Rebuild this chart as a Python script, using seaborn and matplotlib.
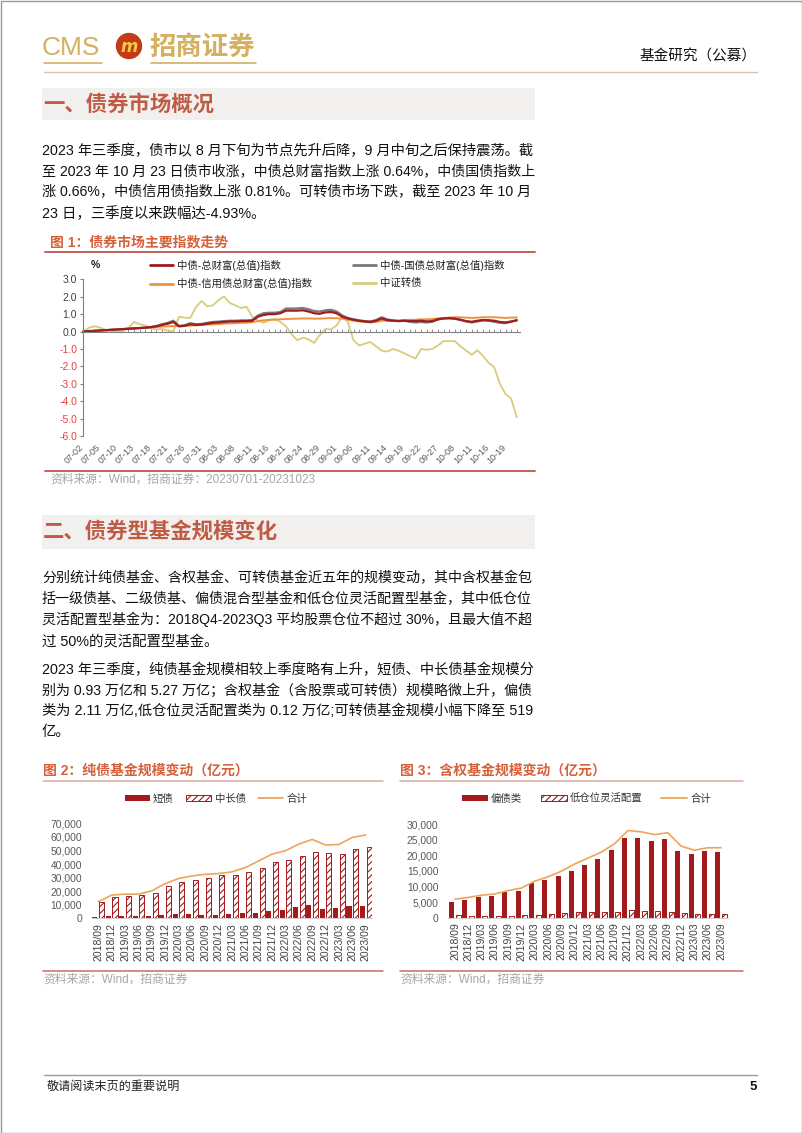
import numpy as np
import pandas as pd
import matplotlib
matplotlib.use("Agg")
import matplotlib.pyplot as plt
import matplotlib.transforms as mtransforms
import seaborn as sns
from matplotlib.patches import Rectangle, Circle, Patch
from matplotlib.lines import Line2D
from matplotlib.ticker import FuncFormatter
from matplotlib.font_manager import FontProperties, findfont, get_font

# ---------------- data: figure 1 (index moves, %) ----------------
date_labels = ["07-02", "07-05", "07-10", "07-13", "07-18", "07-21", "07-26", "07-31",
               "08-03", "08-08", "08-11", "08-16", "08-21", "08-24", "08-29", "09-01",
               "09-06", "09-11", "09-14", "09-19", "09-22", "09-27", "10-08", "10-11",
               "10-16", "10-19"]
label_step = 3
series_names = ["中债-总财富(总值)指数", "中债-国债总财富(总值)指数",
                "中债-信用债总财富(总值)指数", "中证转债"]
total_wealth = [0.00, 0.02, 0.04, 0.06, 0.08, 0.10, 0.12, 0.14, 0.16, 0.18,
                0.20, 0.22, 0.25, 0.30, 0.38, 0.45, 0.55, 0.30, 0.33, 0.42,
                0.38, 0.40, 0.45, 0.50, 0.52, 0.55, 0.58, 0.58, 0.60, 0.60,
                0.62, 0.85, 0.95, 1.00, 1.00, 1.05, 1.20, 1.20, 1.20, 1.22,
                1.15, 1.05, 1.02, 1.10, 1.12, 1.05, 0.85, 0.75, 0.68, 0.62,
                0.58, 0.55, 0.62, 0.75, 0.65, 0.62, 0.60, 0.62, 0.60, 0.60,
                0.62, 0.58, 0.60, 0.70, 0.75, 0.76, 0.74, 0.68, 0.60, 0.56,
                0.62, 0.66, 0.65, 0.62, 0.55, 0.52, 0.58, 0.64]
gov_wealth = [0.00, 0.02, 0.04, 0.06, 0.08, 0.10, 0.12, 0.14, 0.16, 0.18,
              0.20, 0.22, 0.26, 0.32, 0.42, 0.50, 0.62, 0.32, 0.36, 0.48,
              0.42, 0.44, 0.50, 0.55, 0.57, 0.60, 0.62, 0.62, 0.64, 0.64,
              0.66, 0.92, 1.05, 1.08, 1.08, 1.12, 1.32, 1.32, 1.33, 1.35,
              1.28, 1.18, 1.15, 1.22, 1.25, 1.15, 0.92, 0.78, 0.70, 0.64,
              0.60, 0.58, 0.66, 0.82, 0.70, 0.64, 0.60, 0.62, 0.56, 0.52,
              0.55, 0.52, 0.56, 0.70, 0.76, 0.78, 0.74, 0.66, 0.58, 0.52,
              0.58, 0.64, 0.62, 0.56, 0.50, 0.48, 0.56, 0.66]
credit_wealth = [0.00, 0.02, 0.04, 0.06, 0.08, 0.10, 0.12, 0.14, 0.16, 0.18,
                 0.20, 0.22, 0.24, 0.26, 0.28, 0.30, 0.32, 0.30, 0.31, 0.34,
                 0.35, 0.37, 0.39, 0.41, 0.43, 0.45, 0.47, 0.48, 0.50, 0.51,
                 0.53, 0.60, 0.64, 0.67, 0.68, 0.70, 0.72, 0.73, 0.74, 0.75,
                 0.75, 0.74, 0.74, 0.76, 0.77, 0.76, 0.74, 0.68, 0.62, 0.58,
                 0.55, 0.52, 0.55, 0.62, 0.62, 0.62, 0.63, 0.66, 0.67, 0.68,
                 0.70, 0.70, 0.72, 0.76, 0.78, 0.80, 0.82, 0.82, 0.80, 0.78,
                 0.80, 0.82, 0.82, 0.82, 0.80, 0.78, 0.80, 0.81]
conv_bond = [0.00, 0.22, 0.30, 0.22, 0.10, 0.02, 0.02, 0.03, 0.20, 0.55,
             0.42, 0.35, 0.18, 0.12, 0.15, 0.05, 0.02, 0.85, 0.80, 0.78,
             1.40, 1.75, 1.45, 1.50, 1.80, 2.02, 1.65, 1.50, 1.35, 1.42,
             0.85, 0.65, 0.50, 0.65, 0.72, 0.55, 0.30, -0.15, -0.50, -0.35,
             -0.45, -0.65, -0.20, 0.15, 0.12, 0.35, 0.85, 0.55, -0.50, -0.80,
             -0.70, -0.60, -0.85, -1.10, -1.15, -1.00, -1.10, -1.25, -1.40, -1.55,
             -1.00, -1.05, -1.00, -0.80, -0.55, -0.55, -0.55, -0.85, -1.10, -1.33,
             -1.08, -1.40, -1.80, -2.05, -3.00, -3.60, -3.85, -4.93]
y1_ticks = [-6.0, -5.0, -4.0, -3.0, -2.0, -1.0, 0.0, 1.0, 2.0, 3.0]

# ---------------- data: figures 2 & 3 (亿元) ----------------
quarters = ["2018/09", "2018/12", "2019/03", "2019/06", "2019/09", "2019/12",
            "2020/03", "2020/06", "2020/09", "2020/12", "2021/03", "2021/06",
            "2021/09", "2021/12", "2022/03", "2022/06", "2022/09", "2022/12",
            "2023/03", "2023/06", "2023/09"]
short_bond = [1000, 2000, 2000, 1700, 2000, 2700, 3200, 3200, 2700, 2700, 3200,
              3600, 4100, 5100, 6100, 8500, 9500, 6600, 7300, 9300, 9300]
midlong_bond = [12200, 15900, 16300, 17100, 19000, 23900, 26800, 28000, 30000, 31700,
                31700, 34000, 37400, 41600, 42800, 45800, 49000, 48000, 47500, 50700, 52700]
pure_total = [12200, 17100, 17800, 17800, 20200, 25600, 29300, 31200, 32400, 33000,
              34200, 37400, 42300, 47300, 49800, 54700, 58100, 54000, 54400, 59600, 61400]
biased_bond = [5000, 5700, 6600, 6800, 8100, 8600, 11100, 12000, 13500, 14900, 17000,
               18900, 21600, 25400, 25400, 24500, 25200, 21300, 20500, 21300, 21100]
low_flex = [860, 650, 540, 650, 650, 750, 750, 1080, 1500, 1730, 1730,
            1730, 1940, 2380, 2270, 2050, 1730, 1400, 1190, 1080, 1200]
equity_total = [5900, 6500, 7200, 7600, 8700, 9500, 11700, 13100, 14900, 17200, 19100,
                21000, 23700, 27900, 27500, 26600, 27200, 22900, 21600, 22400, 22400]
pure_names = ["短债", "中长债", "合计"]
equity_names = ["偏债类", "低仓位灵活配置", "合计"]

# ---------------- text ----------------
para1 = ["2023 年三季度，债市以 8 月下旬为节点先升后降，9 月中旬之后保持震荡。截",
         "至 2023 年 10 月 23 日债市收涨，中债总财富指数上涨 0.64%，中债国债指数上",
         "涨 0.66%，中债信用债指数上涨 0.81%。可转债市场下跌，截至 2023 年 10 月",
         "23 日，三季度以来跌幅达-4.93%。"]
para2 = ["分别统计纯债基金、含权基金、可转债基金近五年的规模变动，其中含权基金包",
         "括一级债基、二级债基、偏债混合型基金和低仓位灵活配置型基金，其中低仓位",
         "灵活配置型基金为：2018Q4-2023Q3 平均股票仓位不超过 30%，且最大值不超",
         "过 50%的灵活配置型基金。"]
para3 = ["2023 年三季度，纯债基金规模相较上季度略有上升，短债、中长债基金规模分",
         "别为 0.93 万亿和 5.27 万亿；含权基金（含股票或可转债）规模略微上升，偏债",
         "类为 2.11 万亿,低仓位灵活配置类为 0.12 万亿;可转债基金规模小幅下降至 519",
         "亿。"]

# ---------------- style ----------------
sns.set_style("white")
BODY = ["Liberation Sans", "Noto Sans CJK SC"]
plt.rcParams["font.family"] = BODY
plt.rcParams["hatch.linewidth"] = 0.8
plt.rcParams["axes.unicode_minus"] = False

GOLD = "#d4b060"
HEAD = "#bf5b45"
TITLE = "#d5603a"
RULE = "#c0504d"
SRC = "#a6a6a6"
BAR_RED = "#a3191c"
TOT_LINE = "#eea45a"
TICK = "#595959"

W, H = 802, 1133
fig = plt.figure(figsize=(W / 100, H / 100), dpi=100)
bg = fig.add_axes([0, 0, 1, 1])
bg.set_xlim(0, W)
bg.set_ylim(H, 0)
bg.axis("off")


def px_axes(x0, y0, x1, y1):
    return fig.add_axes([x0 / W, 1 - y1 / H, (x1 - x0) / W, (y1 - y0) / H])


lat_font = get_font(findfont(FontProperties(family="Liberation Sans")))
cjk_font = get_font(findfont(FontProperties(family="Noto Sans CJK SC")))


def text_width(s, size):
    w = 0.0
    for c in s:
        f = lat_font if lat_font.get_char_index(ord(c)) else cjk_font
        f.set_size(size, 100)
        w += f.load_char(ord(c)).linearHoriAdvance / 65536
    return w


def paragraph(lines, x0, x1, ys, base=10.4):
    for i, (s, y) in enumerate(zip(lines, ys)):
        size = base
        if i < len(lines) - 1:
            size = base * (x1 - x0) / text_width(s, base)
            size = min(max(size, base * 0.93), base * 1.07)
        bg.text(x0, y, s, fontsize=size, color="#111111", va="center", ha="left")


# page border
bg.add_patch(Rectangle((0.5, 0.5), W - 1, H - 1, fill=False, ec="#9a9a9a", lw=1))

# ---------------- header ----------------
bg.text(42, 48, "CMS", fontsize=19, color=GOLD, va="center", ha="left",
        family="Liberation Sans")
bg.add_patch(Circle((129, 46), 12.5, color="#c23c18"))
bg.text(129, 46.5, "m", fontsize=12, color="#f6c945", va="center", ha="center",
        fontweight="bold", fontstyle="italic", family="DejaVu Sans")
bg.text(149, 47, "招商证券", fontsize=19, color=GOLD, va="center", ha="left",
        fontweight="bold")
bg.plot([44, 102], [63, 63], color=GOLD, lw=1.2)
bg.plot([151, 256], [63, 63], color=GOLD, lw=1.2)
bg.text(757, 57, "基金研究（公募）", fontsize=10.5, color="#111111", va="center", ha="right")
bg.plot([44, 757], [72, 72], color="#d8c4b4", lw=1)

# ---------------- section 1 ----------------
bg.add_patch(Rectangle((42, 88), 493, 32, color="#f2f0ef", lw=0))
bg.text(43, 104, "一、债券市场概况", fontsize=15.4, color=HEAD, va="center", ha="left",
        fontweight="bold")
paragraph(para1, 42, 533, [150.7, 171.7, 192.5, 213.3])

bg.text(50, 242.5, "图 1：债券市场主要指数走势", fontsize=10, color=TITLE,
        va="center", ha="left", fontweight="bold")
bg.plot([45, 535], [251.5, 251.5], color=RULE, lw=1.3)
bg.plot([45, 535], [471, 471], color=RULE, lw=1.3)
bg.text(50, 480, "资料来源：Wind，招商证券：20230701-20231023", fontsize=8.5, color=SRC,
        va="center", ha="left")

# ---------------- chart 1 ----------------
n1 = len(total_wealth)
idx = np.arange(n1)
ax1 = px_axes(83.3, 279.3, 519.6, 436)
ax1.patch.set_alpha(0)
line_specs = [(conv_bond, "#d8cc7c", 1.3), (credit_wealth, "#f0923c", 1.4),
              (gov_wealth, "#7a7a7a", 1.6), (total_wealth, "#9e1b1e", 1.6)]
for vals, col, lw in line_specs:
    sns.lineplot(x=idx, y=vals, color=col, linewidth=lw, ax=ax1, clip_on=False)
ax1.set_xlim(0, 77.5)
ax1.set_ylim(-6, 3)
ax1.set_yticks(y1_ticks)
ax1.set_yticklabels([f"{t:.1f}" for t in y1_ticks], fontsize=7.5)
for lbl, t in zip(ax1.get_yticklabels(), y1_ticks):
    lbl.set_color("#e8413c" if t < 0 else "#404040")
ax1.tick_params(axis="y", length=2.5, width=0.8, color="#808080", pad=2, left=True)
ax1.set_xticks(idx)
ax1.set_xticklabels([])
ax1.tick_params(axis="x", direction="in", length=2.5, width=0.6, color="#808080",
                bottom=True)
for s in ["top", "right"]:
    ax1.spines[s].set_visible(False)
ax1.spines["bottom"].set_position(("data", 0))
ax1.spines["bottom"].set_color("#808080")
ax1.spines["bottom"].set_linewidth(0.8)
ax1.spines["left"].set_color("#808080")
ax1.spines["left"].set_linewidth(0.8)
ax1.set_xlabel("")
ax1.set_ylabel("")

ax1t = ax1.twiny()
ax1t.set_xlim(ax1.get_xlim())
ax1t.xaxis.set_ticks_position("bottom")
ax1t.set_xticks(np.arange(len(date_labels)) * label_step)
ax1t.set_xticklabels(date_labels, rotation=45, ha="right", va="top",
                     rotation_mode="anchor", fontsize=6.5, color=TICK)
ax1t.tick_params(axis="x", length=0, pad=5)
for s in ax1t.spines.values():
    s.set_visible(False)
shift = mtransforms.ScaledTranslation(-4 / 100, 0, fig.dpi_scale_trans)
for lbl in ax1t.get_xticklabels():
    lbl.set_transform(lbl.get_transform() + shift)

bg.text(95, 265, "%", fontsize=7.5, color="#222222", va="center", ha="center",
        fontweight="bold")
h1 = [Line2D([], [], color="#9e1b1e", lw=2), Line2D([], [], color="#f0923c", lw=2),
      Line2D([], [], color="#7a7a7a", lw=2), Line2D([], [], color="#d8cc7c", lw=2)]
l1 = [series_names[0], series_names[2], series_names[1], series_names[3]]
fig.legend(h1, l1, ncol=2, loc="upper left", bbox_to_anchor=(150, 260),
           bbox_transform=bg.transData, frameon=False, fontsize=7.5,
           handlelength=2.2, handletextpad=0.35, columnspacing=4.0,
           labelspacing=0.7, borderpad=0, borderaxespad=0, labelcolor="#222222")

# ---------------- section 2 ----------------
bg.add_patch(Rectangle((42, 515), 493, 34, color="#f2f0ef", lw=0))
bg.text(43, 531, "二、债券型基金规模变化", fontsize=15.4, color=HEAD, va="center",
        ha="left", fontweight="bold")
paragraph(para2, 42, 533, [578.3, 599, 619.5, 641.5])
paragraph(para3, 42, 533, [670, 690.7, 711, 731.7])

# ---------------- charts 2 & 3 frames ----------------
for x0, x1, title in [(43, 383, "图 2：纯债基金规模变动（亿元）"),
                      (400, 743, "图 3：含权基金规模变动（亿元）")]:
    bg.text(x0, 771, title, fontsize=10, color=TITLE, va="center", ha="left",
            fontweight="bold")
    bg.plot([x0, x1], [781, 781], color="#d9aaa0", lw=1.1)
    bg.plot([x0, x1], [970.5, 970.5], color="#cc6a60", lw=1.1)
    bg.text(x0, 979.5, "资料来源：Wind，招商证券", fontsize=8.5, color=SRC,
            va="center", ha="left")


def bar_chart(ax, solid, hatched, total, names, ymax, ystep):
    df = pd.DataFrame({"quarter": quarters * 2,
                       "value": list(solid) + list(hatched),
                       "type": [names[0]] * len(quarters) + [names[1]] * len(quarters)})
    sns.barplot(data=df, x="quarter", y="value", hue="type", order=quarters,
                hue_order=names[:2], palette=[BAR_RED, "white"], width=1.0, gap=0.25,
                saturation=1, errorbar=None, legend=False, ax=ax)
    for b in ax.containers[0]:
        b.set_edgecolor("none")
    for b in ax.containers[1]:
        b.set_hatch("/////")
        b.set_edgecolor(BAR_RED)
        b.set_linewidth(0.7)
    sns.lineplot(x=np.arange(len(quarters)), y=total, color=TOT_LINE, linewidth=1.2,
                 ax=ax)
    ax.patch.set_alpha(0)
    ax.set_xlim(-0.5, len(quarters) - 0.5)
    ax.set_ylim(0, ymax)
    ax.set_yticks(np.arange(0, ymax + 1, ystep))
    ax.yaxis.set_major_formatter(FuncFormatter(lambda v, p: f"{v:,.0f}"))
    ax.set_xticks(np.arange(len(quarters)))
    ax.set_xticklabels(quarters, rotation=90, fontsize=7.5, color="#404040")
    ax.tick_params(axis="x", length=0, pad=3.5)
    ax.tick_params(axis="y", length=0, pad=7, labelsize=7.4, labelcolor=TICK)
    for s in ["top", "right", "left"]:
        ax.spines[s].set_visible(False)
    ax.spines["bottom"].set_color("#d0d0d0")
    ax.spines["bottom"].set_linewidth(0.8)
    ax.set_xlabel("")
    ax.set_ylabel("")


ax2 = px_axes(91.6, 823.3, 372.4, 918.3)
bar_chart(ax2, short_bond, midlong_bond, pure_total, pure_names, 70000, 10000)
ax3 = px_axes(448.3, 824, 727.7, 917.7)
bar_chart(ax3, biased_bond, low_flex, equity_total, equity_names, 30000, 5000)


def bar_legend(names, anchor, hl, cs):
    hs = [Patch(facecolor=BAR_RED, edgecolor="none"),
          Patch(facecolor="white", edgecolor=BAR_RED, hatch="/////", lw=0.7),
          Line2D([], [], color=TOT_LINE, lw=1.3)]
    fig.legend(hs, names, ncol=3, loc="center left", bbox_to_anchor=anchor,
               bbox_transform=bg.transData, frameon=False, fontsize=7.5,
               handlelength=hl, handleheight=0.55, handletextpad=0.3,
               columnspacing=cs, borderpad=0, borderaxespad=0, labelcolor="#333333")


bar_legend(pure_names, (125, 798.5), 2.4, 1.2)
bar_legend(equity_names, (461.7, 798.5), 2.5, 1.8)

# ---------------- footer ----------------
bg.plot([44, 757], [1075, 1075], color="#9a9a9a", lw=1)
bg.text(47, 1086.5, "敬请阅读末页的重要说明", fontsize=8.7, color="#222222", va="center",
        ha="left")
bg.text(757, 1086.5, "5", fontsize=9.5, color="#111111", va="center", ha="right",
        fontweight="bold")

fig.savefig("out.png", dpi=100)
